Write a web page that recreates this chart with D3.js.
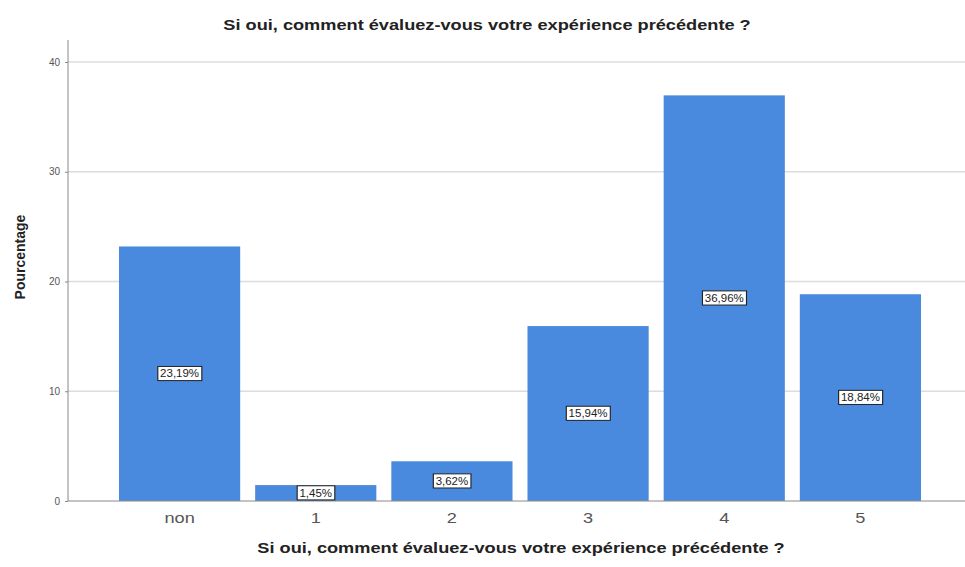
<!DOCTYPE html>
<html lang="fr">
<head>
    <meta charset="UTF-8">
    <title>Pourcentage</title>
    <script src="https://cdn.jsdelivr.net/npm/d3@7"></script>
    <style>
        body { margin: 0; background: #fff; }
        svg { font-family: Arial, "Liberation Sans", sans-serif; }
    </style>
</head>
<body>
<svg width="965" height="567" id="my-svg"></svg>
<script>
    // données
    const categories = ["non", "1", "2", "3", "4", "5"];
    const values = [23.19, 1.45, 3.62, 15.94, 36.96, 18.84];
    const labels = ["23,19%", "1,45%", "3,62%", "15,94%", "36,96%", "18,84%"];
    const yTicks = [0, 10, 20, 30, 40];
    const title = "Si oui, comment évaluez-vous votre expérience précédente ?";

    const svg = d3.select("#my-svg");
    const axisX = 68, plotTop = 40, plotBottom = 501;
    const sx = 1.3; // l'image d'origine est étirée horizontalement

    const x = d3.scaleBand().domain(categories).range([119, 921]).paddingInner(0.11).paddingOuter(0);
    const y = d3.scaleLinear().domain([0, 40]).range([plotBottom, 62]);

    // texte étiré horizontalement
    function stretched(parent, px, py, size, txt) {
        return parent.append("text")
            .attr("transform", `translate(${px},${py}) scale(${sx},1)`)
            .attr("text-anchor", "middle")
            .attr("font-size", size)
            .text(txt);
    }

    // grille
    svg.append("g").selectAll("line").data(yTicks.filter(d => d > 0)).join("line")
        .attr("x1", axisX).attr("x2", 965)
        .attr("y1", d => y(d)).attr("y2", d => y(d))
        .attr("stroke", "#dcdcdc").attr("stroke-width", 1.5);

    // barres
    svg.append("g").selectAll("rect").data(values).join("rect")
        .attr("x", (d, i) => x(categories[i]))
        .attr("width", x.bandwidth())
        .attr("y", d => y(d))
        .attr("height", d => plotBottom - y(d))
        .attr("fill", "#4a8ade");

    // axes
    svg.append("line").attr("x1", axisX).attr("x2", axisX).attr("y1", plotTop).attr("y2", plotBottom)
        .attr("stroke", "#888").attr("stroke-width", 1);
    svg.append("line").attr("x1", axisX).attr("x2", 965).attr("y1", plotBottom).attr("y2", plotBottom)
        .attr("stroke", "#888").attr("stroke-width", 1);

    const yAxis = d3.axisLeft(y).tickValues(yTicks).tickSize(3).tickPadding(5);
    const gy = svg.append("g").attr("transform", `translate(${axisX},0)`).call(yAxis);
    gy.select(".domain").remove();
    gy.selectAll(".tick line").attr("stroke", "#888");
    gy.selectAll("text").attr("font-size", 10).attr("fill", "#555").attr("font-family", "Arial, sans-serif");

    const xAxis = d3.axisBottom(x).tickSize(0).tickPadding(12);
    const gx = svg.append("g").attr("transform", `translate(0,${plotBottom})`).call(xAxis);
    gx.select(".domain").remove();
    gx.selectAll(".tick text").each(function () {
        const t = d3.select(this);
        t.attr("transform", `scale(${sx},1)`).attr("x", 0);
    });
    gx.selectAll("text").attr("font-size", 14).attr("fill", "#555").attr("font-family", "Arial, sans-serif");

    // étiquettes de valeur
    const lab = svg.append("g").selectAll("g").data(values).join("g")
        .attr("transform", (d, i) => `translate(${x(categories[i]) + x.bandwidth() / 2},${(y(d) + plotBottom) / 2}) scale(1.15,1)`);
    lab.append("text")
        .attr("text-anchor", "middle").attr("dy", "0.35em")
        .attr("font-size", 10).attr("fill", "#222")
        .text((d, i) => labels[i]);
    lab.each(function () {
        const g = d3.select(this);
        const b = g.select("text").node().getBBox();
        g.insert("rect", "text")
            .attr("x", b.x - 2).attr("y", b.y - 1.5)
            .attr("width", b.width + 4).attr("height", b.height + 3)
            .attr("fill", "#fff").attr("stroke", "#222").attr("stroke-width", 1);
    });

    // titres
    stretched(svg, 487, 30, 14, title).attr("font-weight", "bold").attr("fill", "#222");
    stretched(svg, 521, 553, 14, title).attr("font-weight", "bold").attr("fill", "#222");
    svg.append("text").attr("transform", "translate(25,257) rotate(-90)").attr("text-anchor", "middle")
        .attr("font-size", 14).attr("font-weight", "bold").attr("fill", "#222").text("Pourcentage");
</script>
</body>
</html>
